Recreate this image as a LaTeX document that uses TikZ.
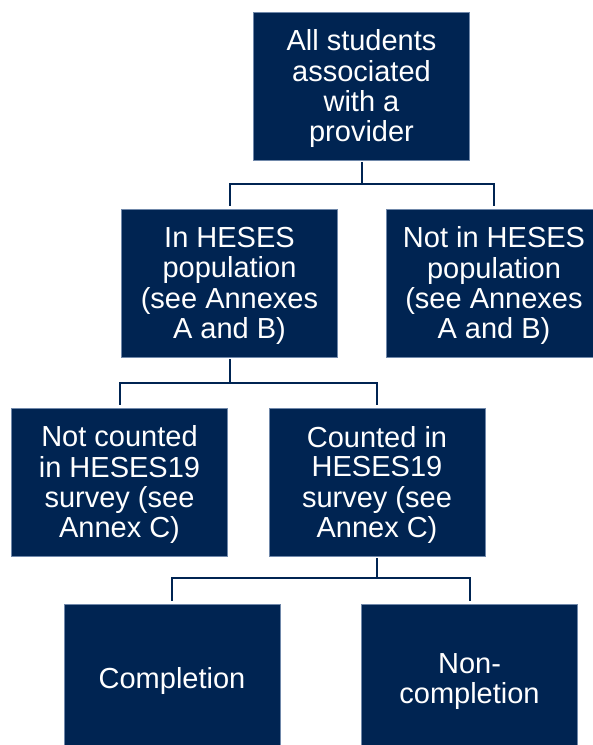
\documentclass[tikz,border=0pt]{standalone}
\usepackage{fontspec}
\setmainfont{Liberation Sans}
\definecolor{navy}{HTML}{002452}
\definecolor{edge}{HTML}{7088AA}
\newcommand{\boxtxt}[1]{\raisebox{-4pt}[\height][\depth]{\begin{tabular}{@{}c@{}}#1\end{tabular}}}
\begin{document}
\begin{tikzpicture}[x=1pt,y=1pt,
  box/.style={rectangle, fill=navy, draw=edge, line width=0.6pt,
    minimum width=216pt, minimum height=148pt, inner sep=0pt,
    text=white, font=\fontsize{29}{30}\selectfont},
  conn/.style={draw=navy, line width=2pt, shorten <=2pt, shorten >=3pt}]
\useasboundingbox (0,0) rectangle (593,-745);
\clip (0,0) rectangle (593,-745);
\node[box] (A) at (361.5,-86) {\boxtxt{All students\\associated\\with a\\provider}};
\node[box] (B) at (229.5,-283) {\boxtxt{In HESES\\population\\(see Annexes\\A and B)}};
\node[box] (C) at (494,-283) {\boxtxt{Not in HESES\\population\\(see Annexes\\A and B)}};
\node[box] (D) at (119.5,-482) {\boxtxt{Not counted\\in HESES19\\survey (see\\Annex C)}};
\node[box] (E) at (377,-482) {\boxtxt{Counted in\\HESES19\\survey (see\\Annex C)}};
\node[box] (F) at (172,-678) {\boxtxt{Completion}};
\node[box] (G) at (469.5,-678) {\boxtxt{Non-\\completion}};
\coordinate (a1) at ([yshift=-24pt]A.south);
\coordinate (b1) at ([yshift=-26pt]B.south);
\coordinate (e1) at ([yshift=-22pt]E.south);
\draw[conn, shorten >=0pt] (A.south) -- (a1);
\draw[conn, shorten <=0pt] (a1) -| (B.north);
\draw[conn, shorten <=0pt] (a1) -| (C.north);
\draw[conn, shorten >=0pt] (B.south) -- (b1);
\draw[conn, shorten <=0pt] (b1) -| (D.north);
\draw[conn, shorten <=0pt] (b1) -| (E.north);
\draw[conn, shorten >=0pt] (E.south) -- (e1);
\draw[conn, shorten <=0pt] (e1) -| (F.north);
\draw[conn, shorten <=0pt] (e1) -| (G.north);
\end{tikzpicture}
\end{document}
